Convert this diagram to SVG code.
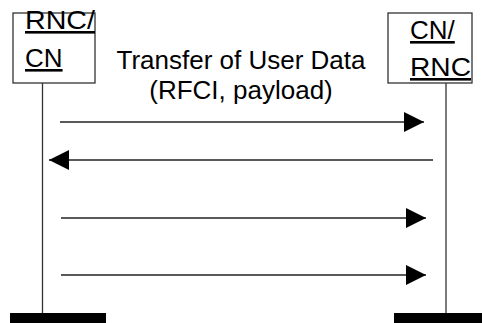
<svg xmlns="http://www.w3.org/2000/svg" width="482" height="323" viewBox="0 0 482 323">
<style>
.box{fill:#fff;stroke:#333;stroke-width:1.3}
.life{stroke:#333;stroke-width:1.3}
.bar{fill:#000}
.lbl{font-family:"Liberation Sans",Arial,sans-serif;font-size:26px;fill:#000;text-decoration:underline}
.txt{font-family:"Liberation Sans",Arial,sans-serif;font-size:26px;fill:#000;text-anchor:middle}
.msg{stroke:#222;stroke-width:1.3;fill:none;marker-end:url(#ah)}
</style>
<defs>
<marker id="ah" markerUnits="userSpaceOnUse" markerWidth="20" markerHeight="20" viewBox="0 0 20 20" refX="20" refY="10" orient="auto">
<path d="M0,0 L20,10 L0,20 z" fill="#000"/>
</marker>
</defs>
<g id="rnc-cn">
<rect class="box" x="13" y="13" width="82" height="70"/>
<text class="lbl" x="25" y="29" textLength="70" lengthAdjust="spacingAndGlyphs">RNC/</text>
<text class="lbl" x="25" y="67">CN</text>
<line class="life" x1="42.5" y1="83" x2="42.5" y2="313"/>
<rect class="bar" x="10" y="313" width="96" height="10"/>
</g>
<g id="cn-rnc">
<rect class="box" x="388" y="13" width="84" height="70"/>
<text class="lbl" x="410" y="39">CN/</text>
<text class="lbl" x="410" y="76" textLength="61" lengthAdjust="spacingAndGlyphs">RNC</text>
<line class="life" x1="446" y1="83" x2="446" y2="313"/>
<rect class="bar" x="394" y="313" width="88" height="10"/>
</g>
<g id="label">
<text class="txt" x="241" y="69">Transfer of User Data</text>
<text class="txt" x="241" y="99">(RFCI, payload)</text>
</g>
<g id="connectors">
<line class="msg" x1="60" y1="122" x2="424" y2="122"/>
<line class="msg" x1="433" y1="160" x2="49" y2="160"/>
<line class="msg" x1="61" y1="218" x2="426" y2="218"/>
<line class="msg" x1="61" y1="275" x2="426" y2="275"/>
</g>
</svg>
